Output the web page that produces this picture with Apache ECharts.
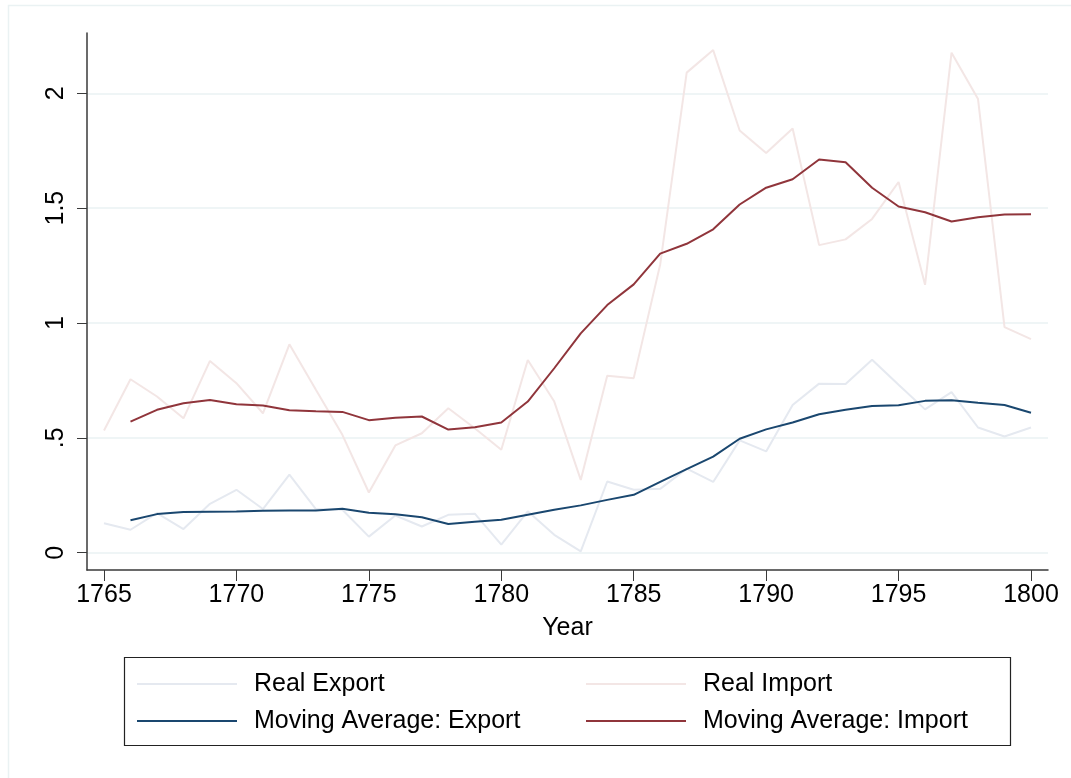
<!DOCTYPE html>
<html>
<head>
<meta charset="utf-8">
<script src="https://cdn.jsdelivr.net/npm/echarts@6/dist/echarts.min.js"></script>
<style>
  html, body { margin: 0; padding: 0; background: #fff; }
  #main { width: 1071px; height: 778px; }
</style>
</head>
<body>
<div id="main"></div>
<script>
// years of the raw series, moving averages start one year later
var years = [1765, 1766, 1767, 1768, 1769, 1770, 1771, 1772, 1773, 1774, 1775, 1776,
  1777, 1778, 1779, 1780, 1781, 1782, 1783, 1784, 1785, 1786, 1787, 1788,
  1789, 1790, 1791, 1792, 1793, 1794, 1795, 1796, 1797, 1798, 1799, 1800]
var maYears = years.slice(1)

var realExport = [0.128, 0.100, 0.172, 0.103, 0.213, 0.274, 0.190, 0.340, 0.190, 0.187, 0.070, 0.162,
  0.114, 0.165, 0.170, 0.035, 0.180, 0.078, 0.006, 0.310, 0.274, 0.278, 0.366, 0.308,
  0.489, 0.441, 0.643, 0.736, 0.734, 0.840, 0.731, 0.624, 0.699, 0.545, 0.506, 0.545]

var realImport = [0.532, 0.755, 0.680, 0.585, 0.835, 0.738, 0.607, 0.907, 0.709, 0.513, 0.262, 0.467,
  0.520, 0.629, 0.542, 0.448, 0.839, 0.658, 0.317, 0.770, 0.760, 1.255, 2.090, 2.188,
  1.838, 1.740, 1.847, 1.339, 1.364, 1.453, 1.614, 1.166, 2.177, 1.975, 0.982, 0.930]

var maExport = [0.141, 0.168, 0.177, 0.178, 0.179, 0.183, 0.184, 0.184, 0.191, 0.174, 0.167,
  0.154, 0.125, 0.135, 0.143, 0.165, 0.187, 0.206, 0.230, 0.252, 0.308, 0.364, 0.418,
  0.496, 0.537, 0.567, 0.603, 0.622, 0.639, 0.642, 0.661, 0.664, 0.653, 0.643, 0.609]

var maImport = [0.571, 0.622, 0.651, 0.665, 0.646, 0.641, 0.620, 0.616, 0.613, 0.577, 0.588,
  0.593, 0.536, 0.546, 0.567, 0.658, 0.803, 0.955, 1.078, 1.168, 1.302, 1.345, 1.408,
  1.516, 1.589, 1.626, 1.712, 1.700, 1.589, 1.507, 1.482, 1.442, 1.460, 1.472, 1.473]

var xTicks = [1765, 1770, 1775, 1780, 1785, 1790, 1795, 1800]
var yTicks = [0, 0.5, 1, 1.5, 2]
var yTickLabels = ['0', '.5', '1', '1.5', '2']

function pairs(xs, ys) {
  return xs.map(function (x, i) { return [x, ys[i]] })
}

var font = 'Liberation Sans, Arial, sans-serif'
var chart = echarts.init(document.getElementById('main'))

var legendText = { fontFamily: font, fontSize: 25, color: '#000', lineHeight: 26, padding: [0, 0, 0, 12] }

var option = {
  backgroundColor: '#fff',
  animation: false,
  grid: { left: 87, right: 23, top: 33, bottom: 208, containLabel: false },
  xAxis: {
    type: 'value',
    min: 1764.358,
    max: 1800.642,
    name: 'Year',
    nameLocation: 'middle',
    nameGap: 46,
    nameTextStyle: { fontFamily: font, fontSize: 25, color: '#000' },
    axisLine: { show: true, onZero: false, lineStyle: { color: '#3a3a3a', width: 1.5 } },
    axisTick: { show: true, customValues: xTicks, length: 11, lineStyle: { color: '#3a3a3a', width: 1 } },
    axisLabel: {
      customValues: xTicks, margin: 13, fontFamily: font, fontSize: 25, color: '#000',
      formatter: function (v) { return String(v) }
    },
    splitLine: { show: false }
  },
  yAxis: {
    type: 'value',
    min: -0.0753,
    max: 2.2625,
    axisLine: { show: true, onZero: false, lineStyle: { color: '#3a3a3a', width: 1.5 } },
    axisTick: { show: true, customValues: yTicks, length: 10, lineStyle: { color: '#3a3a3a', width: 1 } },
    axisLabel: {
      customValues: yTicks,
      rotate: 90,
      margin: 18,
      fontFamily: font, fontSize: 25, color: '#000',
      formatter: function (v) {
        var i = yTicks.indexOf(v)
        return i >= 0 ? yTickLabels[i] : ''
      }
    },
    splitLine: { show: true, lineStyle: { color: '#eaf2f3', width: 1.5 } }
  },
  legend: [{
    orient: 'vertical',
    left: 137,
    top: 671,
    icon: 'rect',
    itemWidth: 100,
    itemHeight: 2,
    itemGap: 11,
    padding: 0,
    textStyle: legendText,
    data: ['Real Export', 'Moving Average: Export']
  }, {
    orient: 'vertical',
    left: 586,
    top: 671,
    icon: 'rect',
    itemWidth: 100,
    itemHeight: 2,
    itemGap: 11,
    padding: 0,
    textStyle: legendText,
    data: ['Real Import', 'Moving Average: Import']
  }],
  graphic: [{
    type: 'rect',
    shape: { x: 8.5, y: 5.5, width: 1100, height: 800 },
    style: { fill: 'none', stroke: '#eaf2f3', lineWidth: 1.5 },
    silent: true
  }, {
    type: 'rect',
    shape: { x: 124.5, y: 657.5, width: 886, height: 88 },
    style: { fill: 'none', stroke: '#222', lineWidth: 1.2 },
    silent: true
  }],
  series: [{
    name: 'Real Export',
    type: 'line',
    data: pairs(years, realExport),
    symbol: 'none',
    color: '#e5e9f0',
    lineStyle: { color: '#e5e9f0', width: 2 },
    z: 1
  }, {
    name: 'Real Import',
    type: 'line',
    data: pairs(years, realImport),
    symbol: 'none',
    color: '#f3e6e5',
    lineStyle: { color: '#f3e6e5', width: 2 },
    z: 1
  }, {
    name: 'Moving Average: Export',
    type: 'line',
    data: pairs(maYears, maExport),
    symbol: 'none',
    color: '#1a476f',
    lineStyle: { color: '#1a476f', width: 2 },
    z: 3
  }, {
    name: 'Moving Average: Import',
    type: 'line',
    data: pairs(maYears, maImport),
    symbol: 'none',
    color: '#90353b',
    lineStyle: { color: '#90353b', width: 2 },
    z: 3
  }]
}

chart.setOption(option)
</script>
</body>
</html>
